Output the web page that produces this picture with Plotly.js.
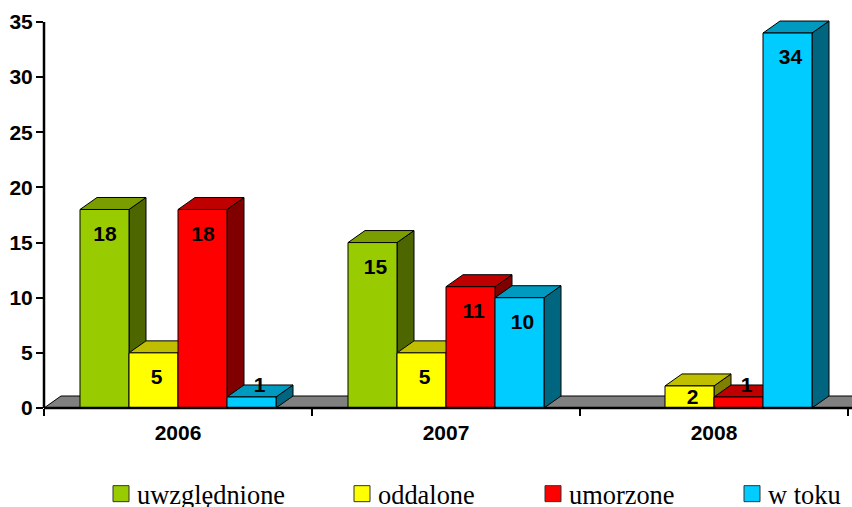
<!DOCTYPE html>
<html><head><meta charset="utf-8">
<script src="https://cdn.plot.ly/plotly-3.0.1.min.js"></script>
<style>html,body{margin:0;padding:0;background:#fff}.legendsymbols{transform:translateX(4px)}</style>
</head><body><div id="chart" style="width:852px;height:507px"></div>
<script>
const years = ['2006','2007','2008'];
const uwzglednione = [18,15,null];
const oddalone = [5,5,2];
const umorzone = [18,11,1];
const wToku = [1,10,34];
const seriesNames = ['uwzględnione','oddalone','umorzone','w toku'];
const seriesValues = [uwzglednione,oddalone,umorzone,wToku];
const frontColors = ['#99CC00','#FFFF00','#FF0000','#00CCFF'];
const topColors = ['#7A9E00','#BFBF00','#BF0000','#0099BF'];
const sideColors = ['#4D6600','#808000','#800000','#006680'];
const yTicks = [0,5,10,15,20,25,30,35];
const legendIds = ['legend','legend2','legend3','legend4'];
const legendLeft = [97,338,529,728];

const W=852,H=507,plotL=44,plotR=852,plotT=8,plotB=408,tickTop=22,yMaxTick=35;
const catPx=268, unitPx=(plotB-tickTop)/yMaxTick;
const barW=49/catPx, dx=17/catPx, dy=12/unitPx;
const xMax=(plotR-plotL)/catPx;
const yMax=(plotB-plotT)/unitPx;
const centers=years.map((_,g)=>g+0.5);
const INK='#000';
const traces=[];

traces.push({type:'scatter',mode:'lines',x:[0,dx,xMax+dx,xMax,0],y:[0,dy,dy,0,0],fill:'toself',fillcolor:'#808080',
  line:{color:INK,width:1},showlegend:false,hoverinfo:'skip',zorder:0});

seriesValues.forEach((vals,i)=>{
  const sx=[],sy=[],tx=[],ty=[];
  vals.forEach((v,g)=>{
    if(v===null) return;
    const xl=centers[g]+(i-2)*barW, xr=xl+barW;
    sx.push(xr,xr+dx,xr+dx,xr,xr,null); sy.push(0,dy,v+dy,v,0,null);
    tx.push(xl,xl+dx,xr+dx,xr,xl,null); ty.push(v,v+dy,v+dy,v,v,null);
  });
  const z=1+i*2;
  traces.push({type:'scatter',mode:'lines',x:sx,y:sy,fill:'toself',fillcolor:sideColors[i],line:{color:INK,width:1},showlegend:false,hoverinfo:'skip',zorder:z});
  traces.push({type:'scatter',mode:'lines',x:tx,y:ty,fill:'toself',fillcolor:topColors[i],line:{color:INK,width:1},showlegend:false,hoverinfo:'skip',zorder:z});
  traces.push({type:'bar',name:seriesNames[i],x:centers,y:vals,marker:{color:frontColors[i],line:{color:INK,width:1}},showlegend:false,hoverinfo:'skip',zorder:z+1});
});

const lx=[],ly=[],lt=[];
seriesValues.forEach((vals,i)=>vals.forEach((v,g)=>{
  if(v===null) return;
  const c=centers[g]+(i-1.5)*barW;
  const onTop=v===1;
  lx.push(c+(onTop?8:(v===18?0.5:3))/catPx);
  ly.push((onTop? v+dy : v<=2 ? v/2 : v-24/unitPx)-2/unitPx);
  lt.push(String(v));
}));
traces.push({type:'scatter',mode:'text',x:lx,y:ly,text:lt,textposition:'middle center',
  textfont:{family:'"Liberation Sans",Arial,sans-serif',size:21,weight:700,color:INK},showlegend:false,hoverinfo:'skip',zorder:20,cliponaxis:false});

seriesNames.forEach((n,i)=>traces.push({type:'scatter',mode:'markers',name:n,x:[null],y:[null],
  marker:{symbol:'square',size:16,color:frontColors[i],line:{color:'#333',width:1}},legend:legendIds[i],showlegend:true,hoverinfo:'skip'}));

const layout={width:W,height:H,margin:{l:plotL,r:W-plotR,t:plotT,b:H-plotB,autoexpand:false},
  paper_bgcolor:'#fff',plot_bgcolor:'#fff',barmode:'group',bargap:1-4*barW,bargroupgap:0,hovermode:false,showlegend:true,
  font:{family:'"Liberation Sans",Arial,sans-serif',color:INK},
  xaxis:{range:[0,xMax],tickmode:'array',tickvals:centers,ticktext:years,ticks:'',ticklen:0,
    ticklabelstandoff:10,tickfont:{size:21,weight:700},showgrid:false,zeroline:false,showline:false,
    minor:{tickmode:'array',tickvals:[0,1,2,3],ticks:'outside',ticklen:7,tickwidth:2,tickcolor:INK,showgrid:false}},
  yaxis:{range:[0,yMax],tickmode:'array',tickvals:yTicks,ticks:'outside',ticklen:7,tickwidth:2,tickcolor:INK,ticklabelstandoff:-1,
    tickfont:{size:21,weight:700},showgrid:false,zeroline:false,showline:false},
  shapes:[
    {type:'line',xref:'paper',yref:'y',x0:0,x1:0,y0:0,y1:yMaxTick,line:{color:INK,width:2.5},layer:'above'},
    {type:'line',xref:'paper',yref:'paper',x0:0,x1:1,y0:0,y1:0,line:{color:INK,width:2.5},layer:'above'}
  ]
};
legendIds.forEach((id,i)=>{
  layout[id]={xref:'container',yref:'container',x:legendLeft[i]/W,y:1-494/H,xanchor:'left',yanchor:'middle',orientation:'h',
    bgcolor:'rgba(0,0,0,0)',borderwidth:0,font:{family:'"Liberation Serif","Times New Roman",serif',size:26.4,color:INK}};
});
Plotly.newPlot('chart',traces,layout,{displayModeBar:false,staticPlot:true});
</script></body></html>
